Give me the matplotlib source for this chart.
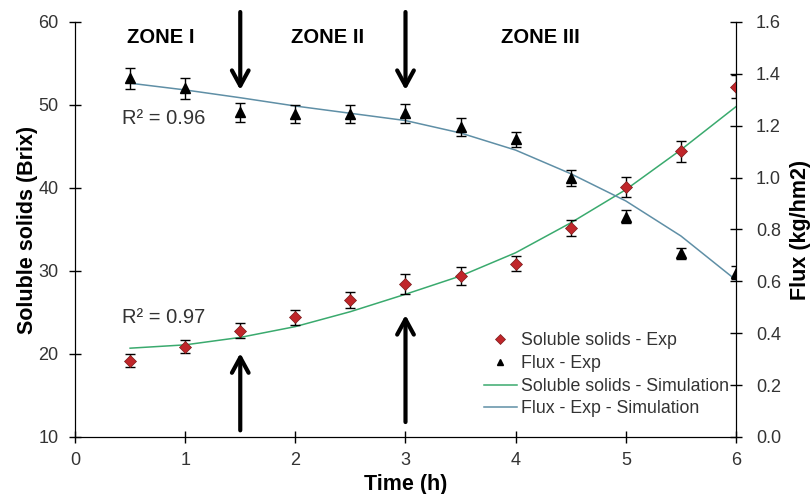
import numpy as np
import matplotlib
matplotlib.use('Agg')
from matplotlib import pyplot as plt
from matplotlib.lines import Line2D

plt.rcParams['font.family'] = ['Liberation Sans', 'DejaVu Sans']

# experimental data
time_exp = [0.5, 1, 1.5, 2, 2.5, 3, 3.5, 4, 4.5, 5, 5.5, 6]
brix_exp = [19.2, 20.9, 22.8, 24.4, 26.5, 28.4, 29.4, 30.9, 35.2, 40.1, 44.4, 52.2]
brix_err = [0.8, 0.8, 0.9, 0.9, 1.0, 1.2, 1.1, 0.9, 1.0, 1.2, 1.3, 1.4]
flux_exp = [1.383, 1.344, 1.252, 1.245, 1.245, 1.248, 1.196, 1.147, 0.997, 0.849, 0.708, 0.633]
flux_err = [0.040, 0.040, 0.037, 0.035, 0.035, 0.036, 0.034, 0.030, 0.031, 0.025, 0.020, 0.025]

# simulation curves
time_sim = [0.5, 1, 1.5, 2, 2.5, 3, 3.5, 4, 4.5, 5, 5.5, 6]
brix_sim = [20.7, 21.1, 22.0, 23.3, 25.1, 27.2, 29.4, 32.2, 35.8, 39.8, 44.6, 49.8]
flux_sim = [1.364, 1.338, 1.308, 1.276, 1.248, 1.220, 1.172, 1.106, 1.015, 0.910, 0.775, 0.605]

red = '#c0262a'
green = '#3aaa6e'
blue = '#5f8fa6'

fig = plt.figure(figsize=(8.11, 4.94), dpi=100)
ax = fig.add_axes([0.0925, 0.1154, 0.815, 0.8401])
ax2 = ax.twinx()

ax.plot(time_sim, brix_sim, color=green, lw=1.1)
ax.errorbar(time_exp, brix_exp, yerr=brix_err, fmt='none', ecolor='black',
            elinewidth=1, capsize=3.5, capthick=1)
ax.plot(time_exp, brix_exp, 'D', color=red, mec='#7a1a1a', mew=0.5, ms=6.5, zorder=5)

ax2.plot(time_sim, flux_sim, color=blue, lw=1.1)
ax2.errorbar(time_exp, flux_exp, yerr=flux_err, fmt='none', ecolor='black',
             elinewidth=1, capsize=3.5, capthick=1)
ax2.plot(time_exp, flux_exp, '^', color='black', ms=6.5, zorder=5)

ax.set_xlim(0, 6)
ax.set_ylim(10, 60)
ax2.set_ylim(0, 1.6)
ax.set_xticks(range(7))
ax.set_yticks(range(10, 61, 10))
ax2.set_yticks(np.arange(0, 1.61, 0.2))
ax2.set_yticklabels(['%.1f' % v for v in np.arange(0, 1.61, 0.2)])

for a in (ax, ax2):
    a.spines['top'].set_visible(False)
    a.tick_params(direction='inout', length=9, width=1, labelsize=13, colors='black')
    a.tick_params(axis='y', labelcolor='#333333')
ax.tick_params(axis='y', pad=7.5)
ax2.tick_params(axis='y', pad=10)
ax.tick_params(axis='x', labelcolor='#333333', pad=6)

ax.set_xlabel('Time (h)', fontsize=15.5, fontweight='bold', labelpad=4)
ax.set_ylabel('Soluble solids (Brix)', fontsize=15.5, fontweight='bold', labelpad=0)
ax2.set_ylabel('Flux (kg/hm2)', fontsize=15.5, fontweight='bold', labelpad=6)

# zone labels
ax.text(0.78, 58.1, 'ZONE I', fontsize=14.5, fontweight='bold', ha='center', va='center')
ax.text(2.29, 58.1, 'ZONE II', fontsize=14.5, fontweight='bold', ha='center', va='center')
ax.text(4.22, 58.1, 'ZONE III', fontsize=14.5, fontweight='bold', ha='center', va='center')

ax.text(0.43, 48.4, 'R² = 0.96', fontsize=14.5, color='#333333', va='center')
ax.text(0.43, 24.4, 'R² = 0.97', fontsize=14.5, color='#333333', va='center')

# arrows
arr = dict(arrowstyle='->,head_length=0.55,head_width=0.3', color='black', lw=3,
           shrinkA=0, shrinkB=0, mutation_scale=20)
for xa in (1.5, 3):
    ax.annotate('', xy=(xa, 51.8), xytext=(xa, 61.2), arrowprops=arr, annotation_clip=False)
ax.annotate('', xy=(1.5, 20.1), xytext=(1.5, 10.8), arrowprops=arr)
ax.annotate('', xy=(3, 24.7), xytext=(3, 11.8), arrowprops=arr)

handles = [
    Line2D([], [], ls='none', marker='D', color=red, mec='#7a1a1a', mew=0.5, ms=5),
    Line2D([], [], ls='none', marker='^', color='black', ms=5),
    Line2D([], [], color=green, lw=1.1),
    Line2D([], [], color=blue, lw=1.1),
]
labels = ['Soluble solids - Exp', 'Flux - Exp', 'Soluble solids - Simulation',
          'Flux - Exp - Simulation']
leg = ax2.legend(handles, labels, loc='lower right', bbox_to_anchor=(1.0, 0.03),
                 frameon=False, fontsize=12.8, handlelength=1.9, handletextpad=0.2,
                 labelspacing=0.32, borderaxespad=0)
for t in leg.get_texts():
    t.set_color('#333333')

fig.savefig('out.png', dpi=100)
